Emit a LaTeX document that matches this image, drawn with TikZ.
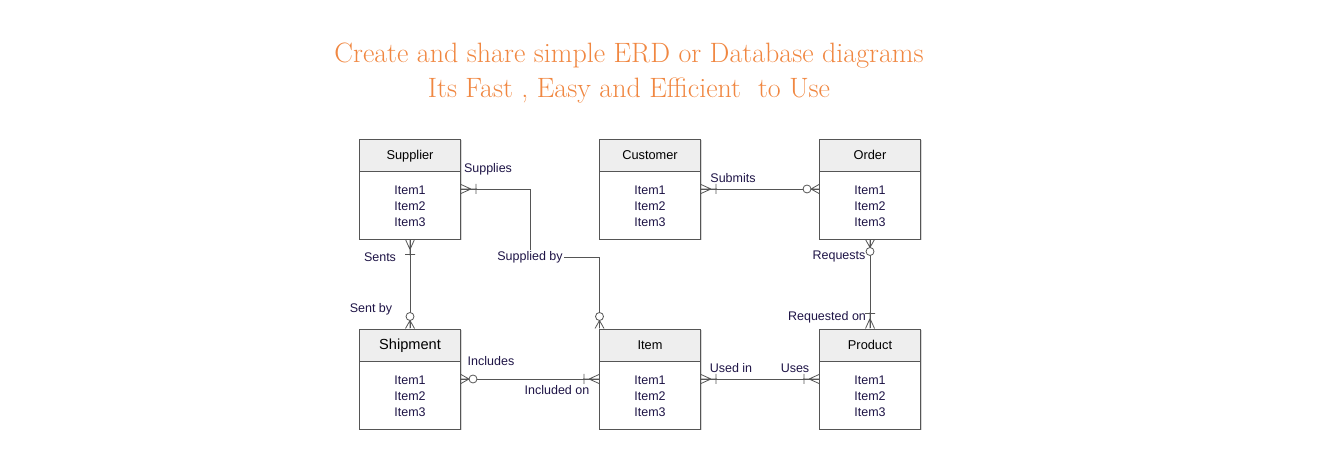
\documentclass[tikz,border=0pt]{standalone}
\usepackage{fontspec}
\setsansfont{Liberation Sans}
\usetikzlibrary{shadows,positioning}
\definecolor{titelorange}{RGB}{240,135,65}
\definecolor{textblau}{HTML}{1E1446}
\definecolor{linie}{HTML}{555555}
\definecolor{kopf}{HTML}{EEEEEE}
%Krähenfuß mit Strich (eins oder viele)
\pgfarrowsdeclare{onemany}{onemany}
{\pgfarrowsleftextend{-16pt}\pgfarrowsrightextend{0.5pt}}
{\pgfsetdash{}{0pt}\pgfsetroundjoin
 \pgfpathmoveto{\pgfpoint{0pt}{4.5pt}}
 \pgfpathlineto{\pgfpoint{-10pt}{0pt}}
 \pgfpathlineto{\pgfpoint{0pt}{-4.5pt}}
 \pgfpathmoveto{\pgfpoint{-16pt}{0pt}}\pgfpathlineto{\pgfpoint{0pt}{0pt}}
 \pgfpathmoveto{\pgfpoint{-15pt}{5pt}}\pgfpathlineto{\pgfpoint{-15pt}{-5pt}}
 \pgfusepathqstroke}
%Krähenfuß mit Kreis (null oder viele)
\pgfarrowsdeclare{zeromany}{zeromany}
{\pgfarrowsleftextend{-17pt}\pgfarrowsrightextend{0.5pt}}
{\pgfsetdash{}{0pt}\pgfsetroundjoin
 \pgfpathmoveto{\pgfpoint{0pt}{4.5pt}}
 \pgfpathlineto{\pgfpoint{-8pt}{0pt}}
 \pgfpathlineto{\pgfpoint{0pt}{-4.5pt}}
 \pgfpathmoveto{\pgfpoint{-8pt}{0pt}}\pgfpathlineto{\pgfpoint{0pt}{0pt}}
 \pgfusepathqstroke
 \pgfsetfillcolor{white}
 \pgfpathcircle{\pgfpoint{-12pt}{0pt}}{4pt}
 \pgfusepathqfillstroke}
\tikzset{
  entity/.style={draw=linie,line width=0.8pt,fill=white,minimum width=101pt,minimum height=100pt,
    inner sep=0pt,outer sep=0pt,drop shadow={shadow xshift=1.5pt,shadow yshift=-1.5pt,fill=black!30,opacity=.5}},
  enthead/.style={draw=linie,line width=0.8pt,fill=kopf,minimum width=101pt,minimum height=32pt,
    inner sep=0pt,outer sep=0pt,text=black,text height=10.5pt,text depth=1pt},
  entitems/.style={align=center,text=textblau,font=\sffamily\fontsize{12.5}{16}\selectfont,inner sep=0pt},
  lbl/.style={text=textblau,font=\sffamily\fontsize{12.5}{14}\selectfont,inner sep=1pt},
  verb/.style={draw=linie,line width=0.8pt}
}
\begin{document}
\begin{tikzpicture}[x=1pt,y=1pt]
\useasboundingbox (0,0) rectangle (1337,473);
\node[text=titelorange,align=center,font=\fontsize{28}{35}\selectfont] (titel) at (629,400)
  {Create and share simple ERD or Database diagrams\\Its Fast , Easy and Efficient~ to Use};
%Entitaeten: Name/Titel/x/y/Schriftgroesse
\foreach \n/\t/\x/\y/\fs in {supplier/Supplier/410/284/12.8, customer/Customer/650/284/12.8,
    order/Order/870/284/12.8, shipment/Shipment/410/94/14.6, item/Item/650/94/12.8, product/Product/870/94/12.8}{
  \node[entity] (\n) at (\x,\y) {};
  \node[enthead,anchor=north,font=\sffamily\fontsize{\fs}{16}\selectfont] (\n-kopf) at (\n.north) {\t};
  \node[entitems] (\n-items) at (\x,\y-17.5) {Item1\\Item2\\Item3};
}
%Beziehungen
\coordinate (knick) at (530,216);
\draw[verb,zeromany-onemany] (item.north west) |- (knick) |- (supplier.east);
\node[lbl,fill=white] (suppliedby) at (knick) {Supplied by};
\draw[verb,onemany-zeromany] (supplier.south) -- (shipment.north);
\draw[verb,onemany-zeromany] (customer.east) -- (order.west);
\draw[verb,zeromany-onemany] (order.south) -- (product.north);
\draw[verb,zeromany-onemany] (shipment.east) -- (item.west);
\draw[verb,onemany-onemany] (item.east) -- (product.west);
%Beschriftungen
\node[lbl] (supplies) at (488,304) {Supplies};
\node[lbl] (sents) at (380,216) {Sents};
\node[lbl] (sentby) at (371,164) {Sent by};
\node[lbl] (submits) at (733,295) {Submits};
\node[lbl] (requests) at (839,216) {Requests};
\node[lbl] (requestedon) at (827,156) {Requested on};
\node[lbl] (includes) at (491,112) {Includes};
\node[lbl] (includedon) at (557,83) {Included on};
\node[lbl] (usedin) at (731,105) {Used in};
\node[lbl] (uses) at (795,105) {Uses};
\end{tikzpicture}
\end{document}
